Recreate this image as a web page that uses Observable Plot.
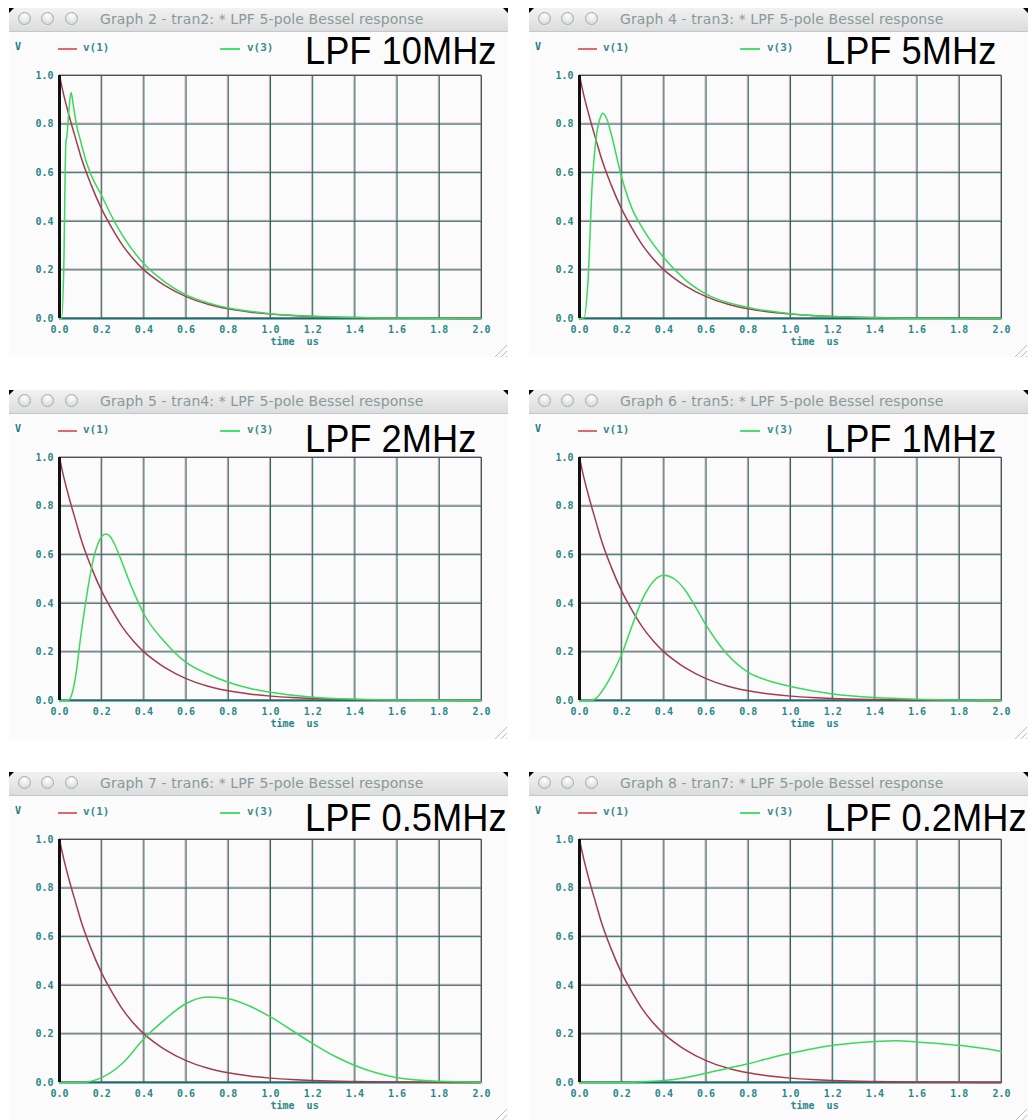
<!DOCTYPE html>
<html><head><meta charset="utf-8">
<script src="https://cdn.jsdelivr.net/npm/d3@7"></script>
<script src="https://cdn.jsdelivr.net/npm/@observablehq/plot@0.6"></script>
<style>
html,body{margin:0;padding:0;background:#fff;}
#root{position:relative;width:1031px;height:1120px;overflow:hidden;background:#fff;}
.win{position:absolute;width:499px;height:349px;background:#fbfbfb;}
.bar{position:absolute;left:0;top:0;width:499px;height:23px;background:linear-gradient(#f2f2f2,#dcdcdc);border-bottom:1px solid #bccaca;border-radius:4px 4px 0 0;}
.cornerL{position:absolute;left:0;top:0;width:5px;height:5px;background:#000;clip-path:polygon(0 0,100% 0,0 100%);}
.cornerR{position:absolute;right:0;top:0;width:5px;height:5px;background:#000;clip-path:polygon(0 0,100% 0,100% 100%);}
.btn{position:absolute;top:4px;width:13px;height:13px;box-sizing:border-box;border-radius:50%;border:1px solid #a3adad;background:radial-gradient(circle at 50% 30%,#ffffff,#cdd2d2);}
.ttl{position:absolute;left:91px;top:3px;font:14px "DejaVu Sans",sans-serif;color:#869a9a;white-space:pre;letter-spacing:0.1px;}
.legV{position:absolute;left:6px;top:33px;font:bold 10px "DejaVu Sans Mono",monospace;color:#23797b;}
.sw{position:absolute;top:40px;height:1.5px;}
.legT{position:absolute;top:33px;font:bold 11px "DejaVu Sans Mono",monospace;color:#3a8a8c;white-space:pre;}
.big{position:absolute;left:296px;font:39px "Liberation Sans",Arial,sans-serif;color:#000;line-height:39px;transform:scaleX(0.93);transform-origin:left top;white-space:pre;}
.grip{position:absolute;left:484px;top:335px;width:14px;height:14px;background:repeating-linear-gradient(135deg,transparent 0 3px,#b4c0c0 3px 4px);clip-path:polygon(100% 0,100% 100%,0 100%);}
.plot{position:absolute;left:0;top:57px;}
</style></head>
<body><div id="root"></div>
<script>
// ---- axis ticks ----
const xTicks = [0, 0.2, 0.4, 0.6, 0.8, 1.0, 1.2, 1.4, 1.6, 1.8, 2.0];
const yTicks = [0, 0.2, 0.4, 0.6, 0.8, 1.0];

// ---- texts ----
const graphTitles = [
  "Graph 2 - tran2: * LPF 5-pole Bessel response",
  "Graph 4 - tran3: * LPF 5-pole Bessel response",
  "Graph 5 - tran4: * LPF 5-pole Bessel response",
  "Graph 6 - tran5: * LPF 5-pole Bessel response",
  "Graph 7 - tran6: * LPF 5-pole Bessel response",
  "Graph 8 - tran7: * LPF 5-pole Bessel response"
];
const filterLabels = ["LPF 10MHz", "LPF 5MHz", "LPF 2MHz", "LPF 1MHz", "LPF 0.5MHz", "LPF 0.2MHz"];
const seriesNames = ["v(1)", "v(3)"];

// ---- v(1): input pulse (same in every graph), time in us ----
const v1Time  = [0, 0.02, 0.05, 0.08, 0.1, 0.15, 0.2, 0.25, 0.3, 0.35, 0.4, 0.45, 0.5, 0.6, 0.7, 0.8, 0.9, 1.0, 1.1, 1.2, 1.4, 1.6, 1.8, 2.0];
const v1Volts = [1.0, 0.92, 0.82, 0.73, 0.67, 0.55, 0.45, 0.37, 0.30, 0.245, 0.20, 0.165, 0.135, 0.09, 0.06, 0.04, 0.027, 0.018, 0.012, 0.008, 0.004, 0.002, 0.001, 0.0];

// ---- v(3): filter outputs ----
const v3Time10M  = [0, 0.01, 0.02, 0.03, 0.035, 0.045, 0.055, 0.065, 0.08, 0.1, 0.125, 0.15, 0.2, 0.26, 0.3, 0.4, 0.5, 0.6, 0.7, 0.8, 0.9, 1.0, 1.2, 1.4, 1.6, 2.0];
const v3Volts10M = [0, 0, 0.2, 0.72, 0.75, 0.86, 0.93, 0.88, 0.80, 0.73, 0.65, 0.59, 0.505, 0.40, 0.34, 0.225, 0.15, 0.097, 0.065, 0.043, 0.03, 0.02, 0.009, 0.004, 0.002, 0];

const v3Time5M  = [0, 0.02, 0.04, 0.06, 0.08, 0.1, 0.11, 0.13, 0.15, 0.2, 0.25, 0.3, 0.4, 0.5, 0.6, 0.8, 1.0, 1.2, 1.4, 1.6, 2.0];
const v3Volts5M = [0, 0, 0.15, 0.55, 0.75, 0.83, 0.845, 0.82, 0.76, 0.58, 0.45, 0.37, 0.25, 0.16, 0.10, 0.045, 0.02, 0.008, 0.003, 0.001, 0];

const v3Time2M  = [0, 0.04, 0.06, 0.08, 0.1, 0.12, 0.14, 0.16, 0.18, 0.2, 0.22, 0.24, 0.26, 0.28, 0.3, 0.35, 0.4, 0.5, 0.6, 0.7, 0.8, 0.9, 1.0, 1.2, 1.4, 1.6, 2.0];
const v3Volts2M = [0, 0, 0.03, 0.12, 0.26, 0.38, 0.49, 0.58, 0.64, 0.675, 0.685, 0.675, 0.645, 0.605, 0.56, 0.45, 0.356, 0.24, 0.157, 0.11, 0.075, 0.05, 0.034, 0.013, 0.005, 0.002, 0];

const v3Time1M  = [0, 0.05, 0.08, 0.1, 0.15, 0.2, 0.25, 0.3, 0.35, 0.4, 0.45, 0.5, 0.55, 0.6, 0.65, 0.7, 0.8, 0.9, 1.0, 1.2, 1.4, 1.6, 1.8, 2.0];
const v3Volts1M = [0, 0, 0.01, 0.03, 0.10, 0.19, 0.31, 0.42, 0.49, 0.515, 0.50, 0.455, 0.385, 0.31, 0.245, 0.19, 0.116, 0.08, 0.058, 0.027, 0.012, 0.005, 0.002, 0];

const v3Time05M  = [0, 0.1, 0.15, 0.2, 0.3, 0.4, 0.5, 0.6, 0.7, 0.8, 0.9, 1.0, 1.1, 1.2, 1.3, 1.4, 1.5, 1.6, 1.8, 2.0];
const v3Volts05M = [0, 0, 0.005, 0.02, 0.08, 0.18, 0.26, 0.325, 0.352, 0.345, 0.315, 0.27, 0.215, 0.16, 0.11, 0.07, 0.04, 0.02, 0.005, 0.001];

const v3Time02M  = [0, 0.2, 0.3, 0.4, 0.5, 0.6, 0.7, 0.8, 0.9, 1.0, 1.1, 1.2, 1.3, 1.4, 1.5, 1.6, 1.7, 1.8, 1.9, 2.0];
const v3Volts02M = [0, 0, 0.003, 0.008, 0.02, 0.038, 0.058, 0.077, 0.10, 0.12, 0.138, 0.153, 0.163, 0.169, 0.172, 0.167, 0.16, 0.153, 0.142, 0.128];

const v3Times = [v3Time10M, v3Time5M, v3Time2M, v3Time1M, v3Time05M, v3Time02M];
const v3Volts = [v3Volts10M, v3Volts5M, v3Volts2M, v3Volts1M, v3Volts05M, v3Volts02M];

// ---- page layout (window positions) ----
const layout = [
  {left: 9,   top: 8,   labelBase: 64},
  {left: 529, top: 8,   labelBase: 64},
  {left: 9,   top: 390, labelBase: 452},
  {left: 529, top: 390, labelBase: 452},
  {left: 9,   top: 772, labelBase: 831},
  {left: 529, top: 772, labelBase: 831}
];

const RED = "#a13d4c", GREEN = "#38d95c", TEAL = "#0f6e71", FRINGE = "#f09a9a";

function makePlot(tArr, vArr) {
  const red = v1Time.map((t, i) => ({t, v: v1Volts[i]}));
  const green = tArr.map((t, i) => ({t, v: vArr[i]}));
  return Plot.plot({
    width: 499, height: 290,
    marginTop: 10, marginRight: 27, marginBottom: 37, marginLeft: 50,
    x: {domain: [0, 2]},
    y: {domain: [0, 1]},
    style: {background: "transparent", fontFamily: "'DejaVu Sans Mono', monospace", fontSize: "10px", color: "#2a8788", overflow: "visible"},
    marks: [
      Plot.ruleX(xTicks, {stroke: FRINGE, dx: -1}),
      Plot.ruleY(yTicks, {stroke: FRINGE, dy: -1}),
      Plot.ruleX(xTicks, {stroke: TEAL}),
      Plot.ruleY(yTicks, {stroke: TEAL}),
      Plot.ruleY([0], {stroke: TEAL, strokeWidth: 2}),
      Plot.axisX({ticks: xTicks, tickSize: 0, tickPadding: 7, tickFormat: d => d.toFixed(1), label: null, fontWeight: "bold"}),
      Plot.axisY({ticks: yTicks, tickSize: 0, tickPadding: 6, tickFormat: d => d.toFixed(1), label: null, fontWeight: "bold"}),
      Plot.text(["time\u00a0\u00a0us"], {text: d => d, frameAnchor: "bottom", textAnchor: "start", dy: 26, fontWeight: "bold"}),
      Plot.line(red, {x: "t", y: "v", stroke: RED, strokeWidth: 1.5, curve: "monotone-x"}),
      Plot.line(green, {x: "t", y: "v", stroke: GREEN, strokeWidth: 1.5, curve: "monotone-x"}),
      Plot.ruleX([0], {stroke: "#111", strokeWidth: 3})
    ]
  });
}

const root = document.getElementById("root");
layout.forEach((L, i) => {
  const w = document.createElement("div");
  w.className = "win";
  w.style.left = L.left + "px";
  w.style.top = L.top + "px";
  w.innerHTML = `
    <div class="bar"></div>
    <div class="cornerL"></div><div class="cornerR"></div>
    <div class="btn" style="left:8.5px"></div>
    <div class="btn" style="left:32px"></div>
    <div class="btn" style="left:55.5px"></div>
    <div class="ttl">${graphTitles[i]}</div>
    <div class="legV">V</div>
    <div class="sw" style="left:49px;width:19px;background:#e06868"></div>
    <div class="legT" style="left:74px">${seriesNames[0]}</div>
    <div class="sw" style="left:211px;width:20px;background:#45e070"></div>
    <div class="legT" style="left:238px">${seriesNames[1]}</div>
    <div class="grip"></div>`;
  const p = makePlot(v3Times[i], v3Volts[i]);
  p.classList.add("plot");
  w.appendChild(p);
  root.appendChild(w);
  const lab = document.createElement("div");
  lab.className = "big";
  lab.textContent = filterLabels[i];
  lab.style.left = (L.left + 296) + "px";
  lab.style.top = (L.labelBase - 33) + "px";
  root.appendChild(lab);
});
</script>
</body></html>
